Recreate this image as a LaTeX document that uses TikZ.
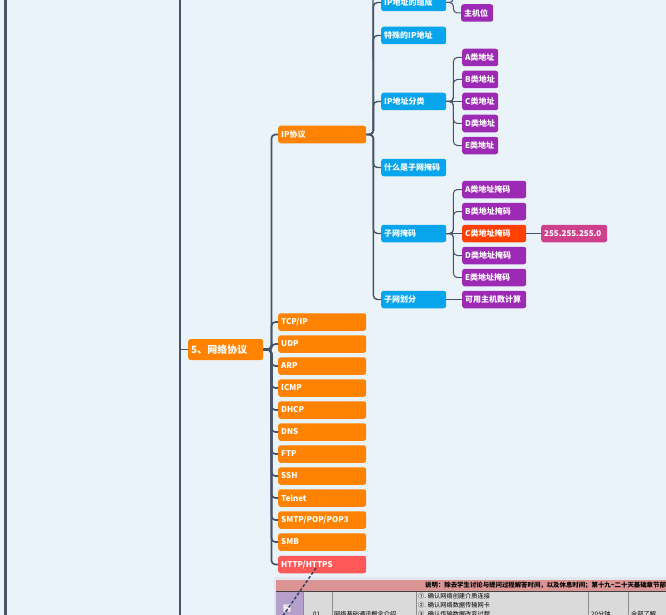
\documentclass[tikz,border=0pt]{standalone}
\usepackage{fontspec}
\newfontfamily\cjk{Noto Sans CJK SC}
\definecolor{bgc}{RGB}{235,243,250}
\definecolor{linec}{RGB}{70,84,106}
\definecolor{orangec}{RGB}{255,130,0}
\definecolor{redc}{RGB}{255,88,88}
\definecolor{bluec}{RGB}{8,164,236}
\definecolor{purplec}{RGB}{156,42,180}
\definecolor{hotc}{RGB}{255,64,0}
\definecolor{pinkc}{RGB}{206,64,140}
\definecolor{headc}{RGB}{218,148,148}
\definecolor{cellc}{RGB}{218,218,218}
\definecolor{violc}{RGB}{180,160,202}
\definecolor{panelc}{RGB}{226,231,238}
\definecolor{dashc}{RGB}{40,56,88}
\tikzset{
  box/.style={rectangle, rounded corners=2.5pt, inner xsep=3pt, inner ysep=0pt,
    minimum height=17.5pt, anchor=west, text=white, align=left,
    font=\cjk\bfseries\fontsize{8}{9}\selectfont},
  obox/.style={box, fill=orangec, text width=82pt},
  bbox/.style={box, fill=bluec, text width=59pt},
  pbox/.style={box, fill=purplec, text width=30pt},
  plbox/.style={box, fill=purplec, text width=58pt},
  conn/.style={draw=linec, line width=1pt, rounded corners=4pt},
  conna/.style={conn, line width=1.7pt},
  connb/.style={conn, line width=1.4pt},
  tabtxt/.style={anchor=west, inner sep=0pt, font=\cjk\fontsize{6.2}{7}\selectfont},
}
\begin{document}
\begin{tikzpicture}[x=1pt,y=-1pt]
\useasboundingbox (0,0) rectangle (666,615);
\clip (0,0) rectangle (666,615);
\fill[bgc] (0,0) rectangle (666,615);

% left trunks
\coordinate (la) at (5.3,-5);
\coordinate (lb) at (5.3,620);
\coordinate (ma) at (180,-5);
\coordinate (mb) at (180,620);
\draw[linec, line width=2.6pt] (la) -- (lb);
\draw[linec, line width=1.8pt] (ma) -- (mb);

% main node
\node[box, fill=orangec, text width=69pt, minimum height=21pt,
  font=\cjk\bfseries\fontsize{10}{11}\selectfont] (net) at (188,349.5) {5、网络协议};
\coordinate (tick) at (180,349.5);
\draw[conn] (tick) -- (net.west);

% level 1
\node[obox] (ip) at (278,134.5) {IP协议};
\node[obox] (tcp) at (278,322) {TCP/IP};
\node[obox] (udp) at (278,344) {UDP};
\node[obox] (arp) at (278,366) {ARP};
\node[obox] (icmp) at (278,388) {ICMP};
\node[obox] (dhcp) at (278,410) {DHCP};
\node[obox] (dns) at (278,432) {DNS};
\node[obox] (ftp) at (278,454) {FTP};
\node[obox] (ssh) at (278,476) {SSH};
\node[obox] (telnet) at (278,498) {Telnet};
\node[obox] (smtp) at (278,520) {SMTP/POP/POP3};
\node[obox] (smb) at (278,542) {SMB};
\node[obox, fill=redc] (http) at (278,564.5) {HTTP/HTTPS};
\foreach \c in {ip,tcp,udp,arp,icmp,dhcp,dns,ftp,ssh,telnet,smtp,smb,http}
  \draw[conna] (net.east) -- ++(8,0) |- (\c.west);

% level 2
\node[bbox] (zucheng) at (381,2.5) {IP地址的组成};
\node[bbox] (teshu) at (381,35.5) {特殊的IP地址};
\node[bbox] (fenlei) at (381,101.5) {IP地址分类};
\node[bbox] (shenme) at (381,167.5) {什么是子网掩码};
\node[bbox] (yanma) at (381,233.5) {子网掩码};
\node[bbox] (huafen) at (381,299.5) {子网划分};
\coordinate (ipup) at (373,-12);
\draw[connb] (ip.east) -- ++(7,0) -- (ipup);
\foreach \c in {zucheng,teshu,fenlei,shenme,yanma,huafen}
  \draw[connb] (ip.east) -- ++(7,0) |- (\c.west);

% level 3: IP地址的组成
\node[box, fill=purplec, text width=26pt] (zhuji) at (461,13) {主机位};
\coordinate (zcup) at (453,-12);
\draw[conn] (zucheng.east) -- ++(7,0) |- (zhuji.west);
\draw[conn] (zucheng.east) -- ++(7,0) -- (zcup);

% level 3: IP地址分类
\node[pbox] (ca) at (462,57.5) {A类地址};
\node[pbox] (cb) at (462,79.5) {B类地址};
\node[pbox] (cc) at (462,101.5) {C类地址};
\node[pbox] (cd) at (462,123.5) {D类地址};
\node[pbox] (ce) at (462,145.5) {E类地址};
\foreach \c in {ca,cb,cd,ce}
  \draw[conn] (fenlei.east) -- ++(7,0) |- (\c.west);
\draw[conn] (fenlei.east) -- (cc.west);

% level 3: 子网掩码
\node[plbox] (ma1) at (462,189.5) {A类地址掩码};
\node[plbox] (mb1) at (462,211.5) {B类地址掩码};
\node[plbox, fill=hotc] (mc1) at (462,233.5) {C类地址掩码};
\node[plbox] (md1) at (462,255.5) {D类地址掩码};
\node[plbox] (me1) at (462,277.5) {E类地址掩码};
\foreach \c in {ma1,mb1,md1,me1}
  \draw[conn] (yanma.east) -- ++(7,0) |- (\c.west);
\draw[conn] (yanma.east) -- (mc1.west);
\node[box, fill=pinkc, text width=60pt] (mval) at (541,233.5) {255.255.255.0};
\draw[conn] (mc1.east) -- (mval.west);

% level 3: 子网划分
\node[plbox] (keyong) at (462,299.5) {可用主机数计算};
\draw[conn] (huafen.east) -- (keyong.west);

% bottom table
\fill[panelc] (273.5,577) rectangle (670,620);
\fill[headc] (276,580) rectangle (670,591.5);
\node[tabtxt, font=\cjk\bfseries\fontsize{6.4}{7}\selectfont] (head) at (425,585.8)
  {说明：除去学生讨论与提问过程解答时间，以及休息时间；第十九\textasciitilde 二十天基础章节部分};
\fill[violc] (276,592) rectangle (303,620);
\fill[cellc] (303,592) rectangle (670,620);
\draw[black!75, line width=0.7pt] (276,591.6) -- (670,591.6);
\foreach \xx in {303,332,416,588,628}
  \draw[black!45, line width=0.8pt] (\xx,592) -- (\xx,620);
\node[tabtxt, text=white, font=\cjk\bfseries\fontsize{8}{9}\selectfont] (wang) at (283,609) {网};
\node[tabtxt] (num) at (313,614) {01};
\node[tabtxt] (title) at (334,614) {网络基础通讯概念介绍};
\node[tabtxt] (l1) at (418,596.5) {①. 确认网络创建介质连接};
\node[tabtxt] (l2) at (418,605) {②. 确认网络数据传输网卡};
\node[tabtxt] (l3) at (418,613.8) {③. 确认传输数据改变过程};
\node[tabtxt] (dur) at (591,614) {20分钟};
\node[tabtxt] (lvl) at (631,614) {全部了解};

% dashed line
\coordinate (da) at (316,568);
\coordinate (db) at (280,620);
\draw[dashc, line width=1.3pt, dash pattern=on 3pt off 2pt] (da) -- (db);
\end{tikzpicture}
\end{document}
